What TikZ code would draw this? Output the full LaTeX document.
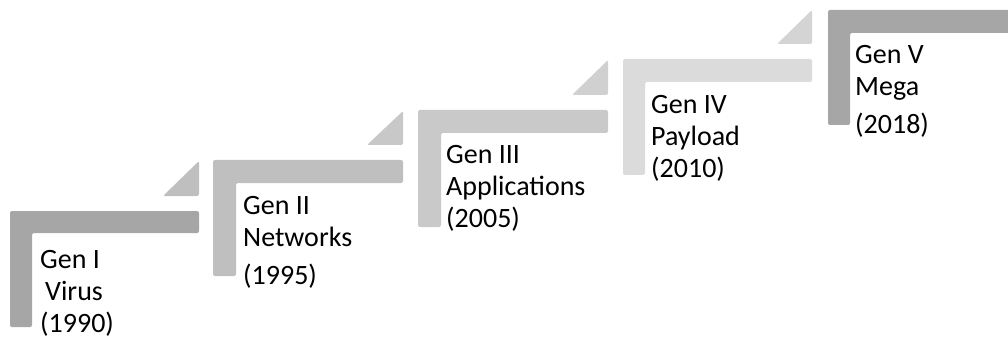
\documentclass[tikz,border=0pt]{standalone}
\usepackage{fontspec}
\setmainfont{Carlito}
\definecolor{stepdark}{HTML}{A6A6A6}
\definecolor{stepmid}{HTML}{BFBFBF}
\definecolor{steplight}{HTML}{C9C9C9}
\definecolor{steppale}{HTML}{DBDBDB}
\definecolor{wedgeone}{HTML}{BFBFBF}
\definecolor{wedgetwo}{HTML}{C8C8C8}
\definecolor{wedgethree}{HTML}{D0D0D0}
\definecolor{wedgefour}{HTML}{D4D4D4}
\begin{document}
\begin{tikzpicture}[x=1pt,y=-1pt]
\tikzstyle{stair}=[rounded corners=2pt]
\tikzstyle{wedge}=[rounded corners=2pt]
\tikzstyle{gentext}=[anchor=north west, inner sep=0pt, align=left, font=\fontsize{28}{32}\selectfont]

\clip (0,0) rectangle (1008,339);

% Gen I step
\fill[stair, stepdark] (10,211) -- (199,211) -- (199,233) -- (32,233) -- (32,327) -- (10,327) -- cycle;
\fill[wedge, wedgeone] (163,196) -- (199,196) -- (199,161) -- cycle;
\node[gentext] (gen1) at (40,250) {Gen I\\\hspace{5pt}Virus\\(1990)};

% Gen II step
\fill[stair, stepmid] (213,160) -- (403,160) -- (403,183) -- (236,183) -- (236,276) -- (213,276) -- cycle;
\fill[wedge, wedgetwo] (367,145) -- (403,145) -- (403,111) -- cycle;
\node[gentext] (gen2) at (243,196) {Gen II\\Networks\\[6pt](1995)};

% Gen III step
\fill[stair, steplight] (418,110) -- (608,110) -- (608,133) -- (441,133) -- (441,227) -- (418,227) -- cycle;
\fill[wedge, wedgethree] (572,95) -- (608,95) -- (608,60) -- cycle;
\node[gentext] (gen3) at (446,145) {Gen III\\Applications\\(2005)};

% Gen IV step
\fill[stair, steppale] (623,59) -- (812,59) -- (812,82) -- (645,82) -- (645,175) -- (623,175) -- cycle;
\fill[wedge, wedgefour] (777,44) -- (812,44) -- (812,10) -- cycle;
\node[gentext] (gen4) at (651,95) {Gen IV\\Payload\\(2010)};

% Gen V step
\fill[stair, stepdark] (828,10) -- (1015,10) -- (1015,33) -- (850,33) -- (850,125) -- (828,125) -- cycle;
\node[gentext] (gen5) at (855,45) {Gen V\\Mega\\[6pt](2018)};
\end{tikzpicture}
\end{document}
